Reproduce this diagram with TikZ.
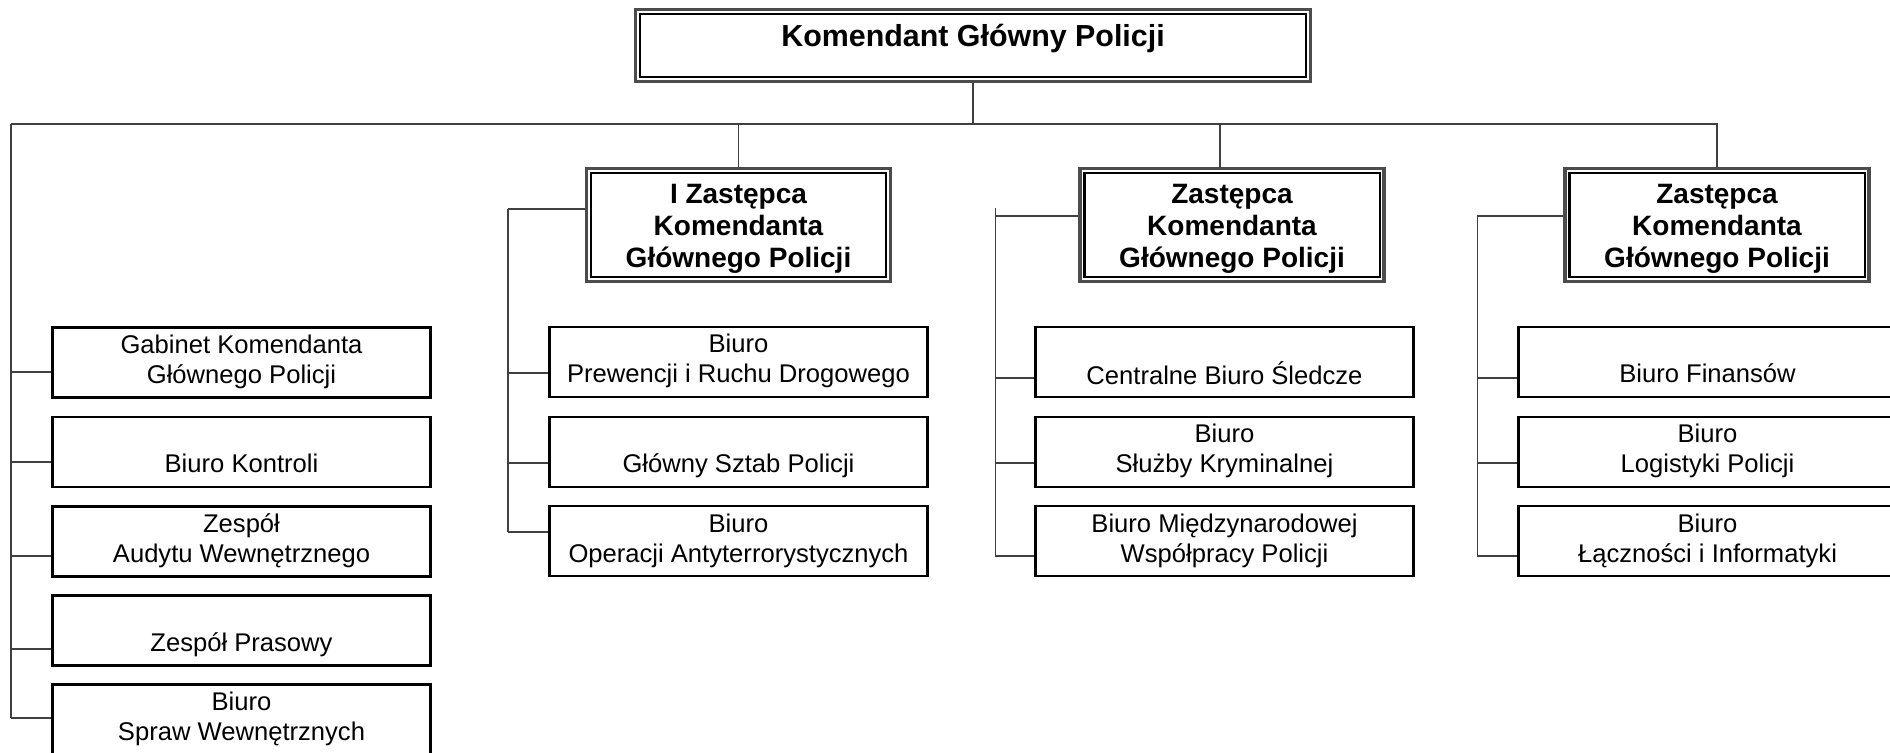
\documentclass[tikz,border=0pt]{standalone}
\usepackage{fontspec}
\setmainfont{Liberation Sans}
\usetikzlibrary{calc}
\newcommand{\boxtxt}[2]{\strut#1\\\strut#2}
\tikzset{
  unit/.style={draw=black, line width=1.4pt, minimum width=189pt, minimum height=35pt,
    inner sep=0pt, align=center, font=\fontsize{12.8}{15}\selectfont},
  deputy/.style={draw=black!70, line width=1.6pt, minimum width=152pt, minimum height=56.5pt,
    inner sep=0pt, align=center, font=\fontsize{14}{16}\selectfont\bfseries},
  chief/.style={draw=black!70, line width=1.6pt, minimum width=337.5pt, minimum height=36pt,
    inner sep=0pt, font=\fontsize{15.2}{18}\selectfont\bfseries, text height=11pt, text depth=10pt},
  innerframe/.style={draw=black, line width=1.1pt},
  conn/.style={draw=black!75, line width=0.65pt},
}
\begin{document}
\begin{tikzpicture}[x=0.5pt,y=-0.5pt]
\clip (0,0) rectangle (1890,753);
\fill[white] (0,0) rectangle (1890,753);

% chief and deputies
\node[chief] (kgp) at (973,45.5) {Komendant Główny Policji};
\node[deputy] (d1) at (738.5,225) {\rule{0pt}{15.5pt}I Zastępca\\\strut Komendanta\\\strut Głównego Policji};
\node[deputy] (d2) at (1232,225) {\rule{0pt}{15.5pt}Zastępca\\\strut Komendanta\\\strut Głównego Policji};
\node[deputy] (d3) at (1717,225) {\rule{0pt}{15.5pt}Zastępca\\\strut Komendanta\\\strut Głównego Policji};
\foreach \n in {kgp,d1,d2,d3}
  \draw[innerframe] ([shift={(3pt,-3pt)}]\n.north west) rectangle ([shift={(-3pt,3pt)}]\n.south east);

% left column
\node[unit] (g1) at (241.5,362.5) {\boxtxt{Gabinet Komendanta}{Głównego Policji}};
\node[unit] (g2) at (241.5,452) {\boxtxt{}{Biuro Kontroli}};
\node[unit] (g3) at (241.5,541.5) {\boxtxt{Zespół}{Audytu Wewnętrznego}};
\node[unit] (g4) at (241.5,630.5) {\boxtxt{}{Zespół Prasowy}};
\node[unit] (g5) at (241.5,719.5) {\boxtxt{Biuro}{Spraw Wewnętrznych}};

% deputy 1 units
\node[unit] (a1) at (738.5,362) {\boxtxt{Biuro}{Prewencji i Ruchu Drogowego}};
\node[unit] (a2) at (738.5,452) {\boxtxt{}{Główny Sztab Policji}};
\node[unit] (a3) at (738.5,541) {\boxtxt{Biuro}{Operacji Antyterrorystycznych}};

% deputy 2 units
\node[unit] (b1) at (1224.5,362) {\boxtxt{}{Centralne Biuro Śledcze}};
\node[unit] (b2) at (1224.5,452) {\boxtxt{Biuro}{Służby Kryminalnej}};
\node[unit] (b3) at (1224.5,541) {\boxtxt{Biuro Międzynarodowej}{Współpracy Policji}};

% deputy 3 units
\node[unit] (c1) at (1707.5,362) {\boxtxt{}{Biuro Finansów}};
\node[unit] (c2) at (1707.5,452) {\boxtxt{Biuro}{Logistyki Policji}};
\node[unit] (c3) at (1707.5,541) {\boxtxt{Biuro}{Łączności i Informatyki}};

% top bus
\coordinate (busL) at (11,124);
\draw[conn] (busL) -- (d3.north |- busL) -- (d3.north);
\draw[conn] (kgp.south) -- (kgp.south |- busL);
\draw[conn] (d1.north) -- (d1.north |- busL);
\draw[conn] ([xshift=-6pt]d2.north) -- ([xshift=-6pt]d2.north |- busL);

% left column connectors
\foreach \n/\dy in {g1/9.5,g2/10,g3/14.5,g4/18.5,g5/-1.5}{
  \path ($(\n.west)+(0,\dy)$) coordinate (\n-c);
  \draw[conn] (\n-c -| busL) -- (\n-c);
}
\draw[conn] (busL) -- (busL |- g5-c);

% deputy 1 connectors
\path ($(d1.west)+(0,-16)$) coordinate (d1-c);
\path (d1-c) ++(-77,0) coordinate (v1);
\draw[conn] (d1-c) -- (v1);
\foreach \n/\dy in {a1/11,a2/11,a3/-9}{
  \path ($(\n.west)+(0,\dy)$) coordinate (\n-c);
  \draw[conn] (\n-c -| v1) -- (\n-c);
}
\draw[conn] (v1) -- (v1 |- a3-c);

% deputy 2 connectors
\path ($(d2.west)+(0,-9)$) coordinate (d2-c);
\path (d2-c) ++(-83,0) coordinate (v2);
\path (v2) ++(0,-8) coordinate (v2top);
\draw[conn] (d2-c) -- (v2);
\foreach \n/\dy in {b1/16,b2/11,b3/15}{
  \path ($(\n.west)+(0,\dy)$) coordinate (\n-c);
  \draw[conn] (\n-c -| v2) -- (\n-c);
}
\draw[conn] (v2top) -- (v2top |- b3-c);

% deputy 3 connectors
\path ($(d3.west)+(0,-9)$) coordinate (d3-c);
\path (d3-c) ++(-86,0) coordinate (v3);
\draw[conn] (d3-c) -- (v3);
\foreach \n/\dy in {c1/16,c2/11,c3/15}{
  \path ($(\n.west)+(0,\dy)$) coordinate (\n-c);
  \draw[conn] (\n-c -| v3) -- (\n-c);
}
\draw[conn] (v3) -- (v3 |- c3-c);
\end{tikzpicture}
\end{document}
